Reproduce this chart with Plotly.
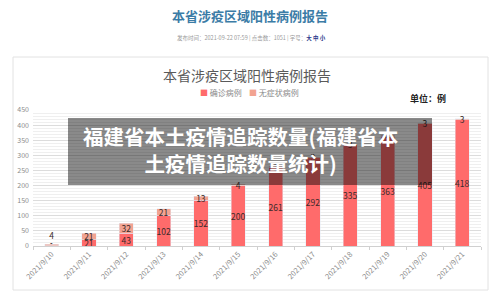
import plotly.graph_objects as go

# ---- data ----
dates = ["2021/9/10", "2021/9/11", "2021/9/12", "2021/9/13", "2021/9/14", "2021/9/15",
         "2021/9/16", "2021/9/17", "2021/9/18", "2021/9/19", "2021/9/20", "2021/9/21"]
confirmed = [1, 21, 43, 102, 152, 200, 261, 292, 335, 363, 405, 418]
asymptomatic = [4, 21, 32, 21, 13, 4, 3, 3, 3, 4, 3, 3]
asym_textpos = ["outside"] + ["inside"] * 11

page_title = "本省涉疫区域阳性病例报告"
meta_text = "发布时间：2021-09-22 07:59 | 点击数：1051 | 字号：<b><span style='color:#2b3a8c'>大 中 小</span></b>"
chart_title = "本省涉疫区域阳性病例报告"
unit_text = "<b>单位：例</b>"
overlay_text = "<b>福建省本土疫情追踪数量(福建省本<br>土疫情追踪数量统计)</b>"
series_names = ["确诊病例", "无症状病例"]

# ---- layout geometry (pixels) ----
W, H = 500, 304
L, R, T, B = 33, 19, 110, 58
PW, PH = W - L - R, H - T - B
FONT = "Noto Sans CJK SC"
C_CONF = "#ff6b6b"
C_ASYM = "#f2a391"


def px(x):
    return (x - L) / PW


def py(y):
    return (H - B - y) / PH


fig = go.Figure()
fig.add_trace(go.Bar(
    x=dates, y=confirmed, name=series_names[0], marker_color=C_CONF,
    text=[str(v) for v in confirmed], textposition="inside", insidetextanchor="middle",
    textangle=0, constraintext="none",
    textfont=dict(size=8.5, color="#3a2a2a", family=FONT),
))
fig.add_trace(go.Bar(
    x=dates, y=asymptomatic, name=series_names[1], marker_color=C_ASYM,
    text=[str(v) for v in asymptomatic], textposition=asym_textpos, insidetextanchor="middle",
    textangle=0, constraintext="none", cliponaxis=False,
    textfont=dict(size=8.5, color="#3a2a2a", family=FONT),
))

fig.update_layout(
    width=W, height=H,
    margin=dict(l=L, r=R, t=T, b=B, pad=0),
    barmode="stack", bargap=0.62,
    paper_bgcolor="white", plot_bgcolor="white",
    showlegend=False,
    font=dict(family=FONT, color="#8c8c8c", size=7),
    yaxis=dict(
        range=[0, 450], dtick=50, tickfont=dict(size=7, color="#8c8c8c"),
        showgrid=True, gridcolor="#dcdcdc", gridwidth=1, zeroline=False,
        ticks="", ticklabelstandoff=3,
        minor=dict(dtick=10, showgrid=True, gridcolor="#efefef", gridwidth=1),
        fixedrange=True,
    ),
    xaxis=dict(
        tickangle=-45, tickfont=dict(size=7.5, color="#8c8c8c"),
        showline=True, linecolor="#d0d0d0", linewidth=1,
        ticks="outside", tickson="boundaries", ticklen=3, tickcolor="#d0d0d0",
        showgrid=False,
    ),
)

shapes = [
    # chart frame
    dict(type="rect", xref="paper", yref="paper", x0=px(13), x1=px(488), y0=py(290), y1=py(57),
         line=dict(color="#e2e2e2", width=1), fillcolor="rgba(0,0,0,0)", layer="below"),
    # overlay banner
    dict(type="rect", xref="paper", yref="paper", x0=px(68), x1=px(432), y0=py(185), y1=py(118),
         line=dict(width=0), fillcolor="rgba(0,0,0,0.46)", layer="above"),
]
fig.update_layout(shapes=shapes)

annotations = [
    dict(text=f"<b>{page_title}</b>", x=px(250), y=py(15), font=dict(size=13, color="#3b7ca6", family=FONT)),
    dict(text=meta_text, x=px(251), y=py(38), font=dict(size=5.5, color="#9a9a9a", family=FONT)),
    dict(text=chart_title, x=px(247), y=py(75), font=dict(size=14, color="#5a5a5a", family=FONT)),
    dict(text=f"<span style='color:{C_CONF}'>■</span> {series_names[0]}    "
              f"<span style='color:{C_ASYM}'>■</span> {series_names[1]}",
         x=px(249), y=py(92), font=dict(size=8, color="#8a8a8a", family=FONT)),
    dict(text=unit_text, x=px(428), y=py(98), font=dict(size=9, color="#222222", family=FONT)),
    dict(text=overlay_text, x=px(240), y=py(149), font=dict(size=20.5, color="white", family=FONT)),
]
for a in annotations:
    a.update(xref="paper", yref="paper", showarrow=False, xanchor="center", yanchor="middle")
fig.update_layout(annotations=annotations)

fig.write_html("out.html")
